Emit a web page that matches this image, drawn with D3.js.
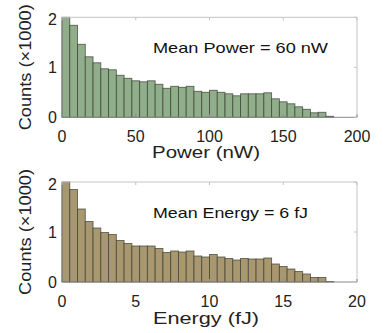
<!DOCTYPE html>
<html>
<head>
<meta charset="utf-8">
<script src="https://cdn.jsdelivr.net/npm/d3@7"></script>
<style>
  body { margin: 0; background: #fff; }
  svg { display: block; font-family: "Liberation Sans", Arial, sans-serif; }
</style>
</head>
<body>
<svg id="chart" width="390" height="333"></svg>
<script>
// Histogram counts (x1000), 35 bins each
const powerCounts = [2.00, 1.84, 1.46, 1.21, 1.09, 0.97, 0.95, 0.84, 0.78, 0.73, 0.71, 0.73,
  0.66, 0.58, 0.62, 0.60, 0.62, 0.52, 0.50, 0.54, 0.50, 0.47, 0.43, 0.47,
  0.47, 0.47, 0.49, 0.37, 0.31, 0.27, 0.21, 0.16, 0.09, 0.10, 0.02];
const energyCounts = [2.00, 1.85, 1.46, 1.21, 1.08, 0.99, 0.95, 0.83, 0.77, 0.72, 0.72, 0.72,
  0.67, 0.59, 0.62, 0.60, 0.62, 0.52, 0.50, 0.55, 0.50, 0.47, 0.44, 0.47,
  0.46, 0.46, 0.48, 0.36, 0.31, 0.26, 0.21, 0.16, 0.09, 0.09, 0.01];
const powerBinWidth = 200 / 38;   // nW
const energyBinWidth = 20 / 38;   // fJ
const powerTicks = [0, 50, 100, 150, 200];
const energyTicks = [0, 5, 10, 15, 20];
const countTicks = [0, 1, 2];

const svg = d3.select('#chart');

// one panel of the figure
function drawPanel(opts) {
  const left = 62, right = 357;
  const top = opts.top, bottom = opts.top + 100;

  const x = d3.scaleLinear().domain(opts.xDomain).range([left, right]);
  const y = d3.scaleLinear().domain([0, 2]).range([bottom, top]);
  const g = svg.append('g');

  // bars
  g.selectAll('.bar')
    .data(opts.counts)
    .enter()
    .append('rect')
    .attr('class', 'bar')
    .attr('x', (d, i) => x(i * opts.binWidth))
    .attr('y', d => y(d))
    .attr('width', x(opts.binWidth) - x(0))
    .attr('height', d => y(0) - y(d))
    .attr('fill', opts.color)
    .attr('stroke', 'rgba(55,60,50,0.75)')
    .attr('stroke-width', 0.9);

  // box: top / right light, bottom / left darker
  g.append('line').attr('x1', left).attr('x2', right).attr('y1', top).attr('y2', top)
    .attr('stroke', '#c4c4c4');
  g.append('line').attr('x1', right).attr('x2', right).attr('y1', top).attr('y2', bottom)
    .attr('stroke', '#c4c4c4');
  g.append('line').attr('x1', left).attr('x2', right).attr('y1', bottom).attr('y2', bottom)
    .attr('stroke', '#8a8a8a');
  g.append('line').attr('x1', left).attr('x2', left).attr('y1', top).attr('y2', bottom)
    .attr('stroke', '#8a8a8a');

  // ticks (inward)
  opts.xTicks.forEach(t => {
    g.append('line').attr('x1', x(t)).attr('x2', x(t)).attr('y1', bottom).attr('y2', bottom - 3)
      .attr('stroke', '#8a8a8a');
    g.append('line').attr('x1', x(t)).attr('x2', x(t)).attr('y1', top).attr('y2', top + 3)
      .attr('stroke', '#c4c4c4');
  });
  countTicks.forEach(t => {
    g.append('line').attr('x1', right).attr('x2', right - 3).attr('y1', y(t)).attr('y2', y(t))
      .attr('stroke', '#c4c4c4');
  });

  // tick labels
  g.selectAll('.xtl')
    .data(opts.xTicks)
    .enter()
    .append('text')
    .attr('x', d => x(d))
    .attr('y', bottom + 24.5)
    .attr('text-anchor', 'middle')
    .attr('font-size', 16)
    .attr('fill', '#222')
    .text(d => d);

  g.selectAll('.ytl')
    .data(countTicks)
    .enter()
    .append('text')
    .attr('x', 57)
    .attr('y', d => y(d) + 6 + (d === 2 ? 2 : 0))
    .attr('text-anchor', 'end')
    .attr('font-size', 16)
    .attr('fill', '#222')
    .text(d => d);

  // axis labels
  g.append('text')
    .attr('x', 206)
    .attr('y', bottom + opts.xLabelOffset)
    .attr('text-anchor', 'middle')
    .attr('font-size', 16)
    .attr('textLength', opts.xLabelWidth)
    .attr('lengthAdjust', 'spacingAndGlyphs')
    .attr('fill', '#222')
    .text(opts.xLabel);

  g.append('text')
    .attr('transform', `translate(31,${(top + bottom) / 2}) rotate(-90)`)
    .attr('text-anchor', 'middle')
    .attr('font-size', 16)
    .attr('textLength', 126)
    .attr('lengthAdjust', 'spacingAndGlyphs')
    .attr('fill', '#222')
    .text('Counts (\u00d71000)');

  // annotation
  g.append('text')
    .attr('x', 153)
    .attr('y', top + 36)
    .attr('font-size', 15)
    .attr('textLength', opts.noteWidth)
    .attr('lengthAdjust', 'spacingAndGlyphs')
    .attr('fill', '#111')
    .text(opts.note);
}

drawPanel({
  top: 17.3,
  xDomain: [0, 200],
  counts: powerCounts,
  binWidth: powerBinWidth,
  xTicks: powerTicks,
  color: '#91ae8a',
  xLabel: 'Power (nW)',
  xLabelOffset: 40.5,
  xLabelWidth: 108,
  note: 'Mean Power = 60 nW',
  noteWidth: 175
});

drawPanel({
  top: 182,
  xDomain: [0, 20],
  counts: energyCounts,
  binWidth: energyBinWidth,
  xTicks: energyTicks,
  color: '#a99770',
  xLabel: 'Energy (fJ)',
  xLabelOffset: 42,
  xLabelWidth: 106,
  note: 'Mean Energy = 6 fJ',
  noteWidth: 155
});
</script>
</body>
</html>
